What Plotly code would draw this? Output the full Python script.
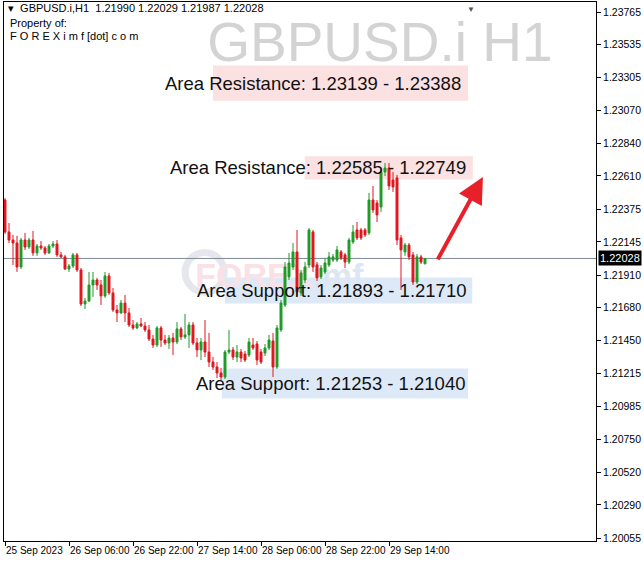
import plotly.graph_objects as go
import pandas as pd

# ---- data (GBPUSD.i H1) ----
open_ = [1.22440, 1.22215, 1.22158, 1.22137, 1.21968, 1.22158, 1.22109, 1.22158, 1.22067, 1.22116,
         1.22102, 1.22067, 1.22116, 1.22130, 1.22053, 1.22039, 1.21954, 1.21975, 1.22053, 1.21947,
         1.21707, 1.21728, 1.21841, 1.21876, 1.21841, 1.21764, 1.21905, 1.21785, 1.21665, 1.21644,
         1.21714, 1.21644, 1.21559, 1.21538, 1.21566, 1.21552, 1.21524, 1.21460, 1.21418, 1.21538,
         1.21453, 1.21432, 1.21467, 1.21439, 1.21531, 1.21475, 1.21489, 1.21559, 1.21432, 1.21383,
         1.21439, 1.21368, 1.21298, 1.21263, 1.21221, 1.21192, 1.21368, 1.21383, 1.21333, 1.21368,
         1.21354, 1.21347, 1.21418, 1.21425, 1.21368, 1.21361, 1.21397, 1.21446, 1.21263, 1.21524,
         1.21700, 1.21898, 1.21968, 1.22074, 1.21785, 1.21876, 1.21982, 1.22215, 1.21982, 1.21898,
         1.21933, 1.21982, 1.22017, 1.22017, 1.22074, 1.22053, 1.22003, 1.22144, 1.22229, 1.22229,
         1.22229, 1.22208, 1.22440, 1.22419, 1.22391, 1.22638, 1.22666, 1.22581, 1.22596, 1.22173,
         1.22074, 1.22123, 1.22053, 1.21862, 1.22039, 1.21990]
high = [1.22454, 1.22278, 1.22194, 1.22187, 1.22173, 1.22208, 1.22173, 1.22222, 1.22130, 1.22151,
        1.22116, 1.22130, 1.22151, 1.22158, 1.22074, 1.22053, 1.21989, 1.22067, 1.22067, 1.21961,
        1.21750, 1.21933, 1.21933, 1.21891, 1.21876, 1.21933, 1.21926, 1.21820, 1.21700, 1.21735,
        1.21771, 1.21679, 1.21594, 1.21580, 1.21608, 1.21580, 1.21559, 1.21489, 1.21552, 1.21552,
        1.21489, 1.21489, 1.21503, 1.21580, 1.21545, 1.21637, 1.21580, 1.21580, 1.21467, 1.21467,
        1.21594, 1.21503, 1.21333, 1.21298, 1.21256, 1.21383, 1.21524, 1.21404, 1.21418, 1.21390,
        1.21376, 1.21467, 1.21467, 1.21446, 1.21390, 1.21425, 1.21489, 1.21503, 1.21559, 1.21735,
        1.22003, 1.22067, 1.22137, 1.22229, 1.21947, 1.22003, 1.22243, 1.22229, 1.22003, 1.21982,
        1.22032, 1.22074, 1.22060, 1.22116, 1.22088, 1.22067, 1.22173, 1.22264, 1.22285, 1.22243,
        1.22243, 1.22490, 1.22539, 1.22440, 1.22666, 1.22701, 1.22701, 1.22638, 1.22617, 1.22194,
        1.22137, 1.22137, 1.22074, 1.22060, 1.22053, 1.22029]
low = [1.22201, 1.22137, 1.21982, 1.21933, 1.21954, 1.22088, 1.22095, 1.22046, 1.22046, 1.22088,
       1.22053, 1.22060, 1.22102, 1.22039, 1.22032, 1.21947, 1.21933, 1.21961, 1.21933, 1.21693,
       1.21672, 1.21721, 1.21757, 1.21806, 1.21700, 1.21750, 1.21771, 1.21651, 1.21580, 1.21637,
       1.21580, 1.21545, 1.21524, 1.21531, 1.21545, 1.21510, 1.21446, 1.21397, 1.21404, 1.21404,
       1.21418, 1.21390, 1.21347, 1.21425, 1.21453, 1.21460, 1.21397, 1.21418, 1.21333, 1.21312,
       1.21333, 1.21263, 1.21242, 1.21185, 1.21171, 1.21178, 1.21354, 1.21312, 1.21298, 1.21298,
       1.21298, 1.21333, 1.21383, 1.21277, 1.21284, 1.21340, 1.21383, 1.21192, 1.21249, 1.21510,
       1.21686, 1.21876, 1.21947, 1.21764, 1.21764, 1.21855, 1.21961, 1.21933, 1.21869, 1.21883,
       1.21919, 1.21968, 1.22003, 1.22003, 1.22017, 1.21961, 1.21989, 1.22130, 1.22158, 1.22158,
       1.22180, 1.22194, 1.22349, 1.22285, 1.22356, 1.22610, 1.22511, 1.22497, 1.22123, 1.21806,
       1.22046, 1.22017, 1.21841, 1.21848, 1.21989, 1.21987]
close = [1.22215, 1.22158, 1.22137, 1.21968, 1.22158, 1.22109, 1.22158, 1.22067, 1.22116, 1.22102,
         1.22067, 1.22116, 1.22130, 1.22053, 1.22039, 1.21954, 1.21975, 1.22053, 1.21947, 1.21707,
         1.21728, 1.21841, 1.21876, 1.21841, 1.21764, 1.21905, 1.21785, 1.21665, 1.21644, 1.21714,
         1.21644, 1.21559, 1.21538, 1.21566, 1.21552, 1.21524, 1.21460, 1.21418, 1.21538, 1.21453,
         1.21432, 1.21467, 1.21439, 1.21531, 1.21475, 1.21489, 1.21559, 1.21432, 1.21383, 1.21439,
         1.21368, 1.21298, 1.21263, 1.21221, 1.21192, 1.21368, 1.21383, 1.21333, 1.21368, 1.21326,
         1.21312, 1.21439, 1.21397, 1.21312, 1.21298, 1.21397, 1.21453, 1.21263, 1.21538, 1.21714,
         1.21968, 1.21996, 1.22074, 1.21792, 1.21926, 1.21968, 1.22229, 1.21968, 1.21891, 1.21961,
         1.21996, 1.22039, 1.22039, 1.22088, 1.22032, 1.22003, 1.22158, 1.22215, 1.22173, 1.22173,
         1.22194, 1.22440, 1.22370, 1.22335, 1.22638, 1.22666, 1.22539, 1.22532, 1.22158, 1.22088,
         1.22123, 1.22039, 1.21862, 1.22039, 1.22003, 1.22028]

start_time = "2023-09-25 14:00"
current_price = 1.22028

y_ticks = [1.23765, 1.23535, 1.23305, 1.23070, 1.22840, 1.22610, 1.22375, 1.22145,
           1.21910, 1.21680, 1.21450, 1.21215, 1.20985, 1.20750, 1.20520, 1.20290, 1.20055]
x_tick_index = [0, 16, 32, 48, 64, 80, 96]
x_tick_labels = ["25 Sep 2023", "26 Sep 06:00", "26 Sep 22:00", "27 Sep 14:00",
                 "28 Sep 06:00", "28 Sep 22:00", "29 Sep 14:00"]

resistance_zones = [(1.23139, 1.23388), (1.22585, 1.22749)]
support_zones = [(1.21893, 1.21710), (1.21253, 1.21040)]

# ---- figure ----
times = pd.date_range(start_time, periods=len(open_), freq="h")
x0 = times[0] - pd.Timedelta(minutes=15)
x1 = x0 + pd.Timedelta(hours=148)

GREEN = "#1f9a28"
RED = "#e3161e"
FONT = "Liberation Sans, Arial, sans-serif"

fig = go.Figure()
fig.add_trace(go.Candlestick(
    x=times, open=open_, high=high, low=low, close=close,
    increasing=dict(line=dict(color=GREEN, width=1), fillcolor=GREEN),
    decreasing=dict(line=dict(color=RED, width=1), fillcolor=RED),
    showlegend=False, hoverinfo="skip",
))

# zone boxes (paper x extents, price y extents)
zone_boxes = [
    (resistance_zones[0], 0.353, 0.784, "#fbe1e1"),
    (resistance_zones[1], 0.508, 0.792, "#fbe1e1"),
    (support_zones[0], 0.373, 0.791, "#dde9f7"),
    (support_zones[1], 0.368, 0.784, "#dde9f7"),
]
for (a, b), px0, px1, col in zone_boxes:
    fig.add_shape(type="rect", xref="paper", yref="y", x0=px0, x1=px1,
                  y0=min(a, b), y1=max(a, b), fillcolor=col, line=dict(width=0),
                  layer="below")

# faint FOREXimf watermark (below candles)
fig.add_shape(type="circle", xref="paper", yref="y", x0=0.306, x1=0.372,
              y0=1.21790, y1=1.22070, line=dict(color="#e6e7ec", width=7),
              layer="below")
fig.add_shape(type="rect", xref="paper", yref="y", x0=0.37, x1=0.56,
              y0=1.21800, y1=1.22070, line=dict(width=0), fillcolor="rgba(0,0,0,0)",
              layer="below",
              label=dict(text='<b><span style="color:#f9e1e6">FOREX</span>'
                              '<span style="color:#dde6f3">imf</span></b>',
                         font=dict(family=FONT, size=34),
                         textposition="middle center"))

# big symbol watermark
fig.add_shape(type="rect", xref="paper", yref="paper", x0=0.33, x1=0.94,
              y0=0.88, y1=0.99, line=dict(width=0), fillcolor="rgba(0,0,0,0)",
              layer="below",
              label=dict(text="GBPUSD.i H1", font=dict(family=FONT, size=55, color="#d3d3d3"),
                         textposition="middle center"))

# current price line
fig.add_hline(y=current_price, line=dict(color="#7d8a96", width=1), layer="below")

# zone labels
zone_texts = [
    ("Area Resistance: %.5f - %.5f" % resistance_zones[0], 0.522, sum(resistance_zones[0]) / 2),
    ("Area Resistance: %.5f - %.5f" % resistance_zones[1], 0.530, sum(resistance_zones[1]) / 2),
    ("Area Support: %.5f - %.5f" % support_zones[0], 0.553, sum(support_zones[0]) / 2),
    ("Area Support: %.5f - %.5f" % support_zones[1], 0.5515, sum(support_zones[1]) / 2),
]
for txt, xp, yv in zone_texts:
    fig.add_annotation(text=txt, xref="paper", yref="y", x=xp, y=yv, showarrow=False,
                       font=dict(family=FONT, size=18.5, color="#111111"),
                       xanchor="center", yanchor="middle")

# red arrow
fig.add_annotation(xref="paper", yref="y", x=0.809, y=1.22603, ax=-46, ay=84,
                   axref="pixel", ayref="pixel", text="", showarrow=True,
                   arrowhead=2, arrowsize=1.3, arrowwidth=4, arrowcolor="#e8202a")

# header texts
fig.add_annotation(text="▾  GBPUSD.i,H1  %.5f %.5f %.5f %.5f" % (open_[-1], high[-1], low[-1], close[-1]),
                   xref="paper", yref="paper", x=0.0, y=0.988, xanchor="left", yanchor="middle",
                   xshift=2, showarrow=False, font=dict(family=FONT, size=11, color="#000000"))
fig.add_annotation(text="Property of:", xref="paper", yref="paper", x=0.0, y=0.961,
                   xanchor="left", yanchor="middle", xshift=4, showarrow=False,
                   font=dict(family=FONT, size=11, color="#000000"))
fig.add_annotation(text="F O R E X i m f [dot] c o m", xref="paper", yref="paper", x=0.0, y=0.937,
                   xanchor="left", yanchor="middle", xshift=4, showarrow=False,
                   font=dict(family=FONT, size=11, color="#000000"))

# chart-shift marker
fig.add_annotation(text="▼", xref="paper", yref="paper", x=0.798, y=1.0, yanchor="top",
                   showarrow=False, font=dict(size=8, color="#555555"), borderpad=0)

# current price label on the axis
fig.add_annotation(text="%.5f" % current_price, xref="paper", yref="y", x=1.0, y=current_price,
                   xanchor="left", yanchor="middle", xshift=2, showarrow=False,
                   bgcolor="#000000", font=dict(family=FONT, size=11, color="#ffffff"),
                   borderpad=1)

fig.update_layout(
    width=644, height=564,
    margin=dict(l=4, r=48, t=2, b=23, autoexpand=False),
    paper_bgcolor="white", plot_bgcolor="white",
    showlegend=False,
    xaxis=dict(
        range=[x0, x1], rangeslider=dict(visible=False),
        tickvals=[times[i] for i in x_tick_index], ticktext=x_tick_labels,
        ticks="outside", ticklen=4, tickcolor="#000000", tickangle=0,
        ticklabelposition="outside right", automargin=False,
        showgrid=False, zeroline=False,
        showline=True, linecolor="#000000", linewidth=1, mirror=True,
        tickfont=dict(family=FONT, size=10, color="#000000"),
    ),
    yaxis=dict(
        side="right", range=[1.20036, 1.23836], automargin=False,
        tickvals=y_ticks, ticktext=["%.5f" % v for v in y_ticks],
        ticks="outside", ticklen=4, tickcolor="#000000",
        showgrid=False, zeroline=False,
        showline=True, linecolor="#000000", linewidth=1, mirror=True,
        tickfont=dict(family=FONT, size=10.5, color="#000000"),
    ),
)

fig.write_html("out.html", config={"displayModeBar": False},
               post_script="document.body.style.margin='0';document.body.style.padding='0';")
